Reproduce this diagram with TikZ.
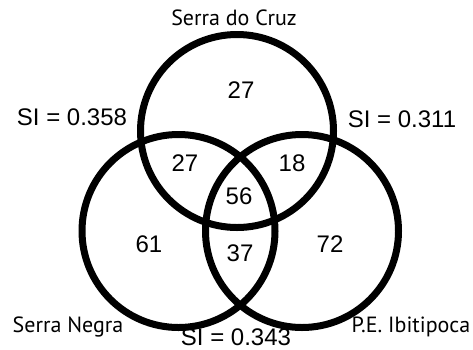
\documentclass[tikz,border=0pt]{standalone}
\usepackage{fontspec}
\setmainfont{Liberation Sans}
\newfontfamily\sitefont{PT Sans}

\begin{document}
\begin{tikzpicture}[x=1pt, y=-1pt,
    ring/.style={line width=7pt, black},
    num/.style={font=\fontsize{24}{28}\selectfont, inner sep=0pt},
    site/.style={font=\sitefont\fontsize{22}{25}\selectfont, inner sep=0pt, anchor=base}]
    % Rahmen des Bildes
    \useasboundingbox (0, 0) rectangle (473, 349);

    % 1. Drei Kreise
    \draw[ring] (237, 131) circle (96.5);
    \draw[ring] (178.5, 231) circle (96.5);
    \draw[ring] (302, 231) circle (96.5);

    % 2. Anzahl der Arten je Bereich
    \node[num] (cruz)  at (241, 90)  {27};
    \node[num] (cn)    at (185, 163) {27};
    \node[num] (ci)    at (292, 163) {18};
    \node[num] (all)   at (239, 196) {56};
    \node[num] (negra) at (149, 244) {61};
    \node[num] (ni)    at (240, 253) {37};
    \node[num] (ibit)  at (330, 244) {72};

    % 3. Namen der Gebiete
    \node[site] (lcruz)  at (234, 25.5) {Serra do Cruz};
    \node[site] (lnegra) at (68, 332)   {Serra Negra};
    \node[site] (libit)  at (411, 332)  {P.E. Ibitipoca};

    % 4. Ähnlichkeitsindizes
    \node[num] (sicn) at (72, 117)  {SI = 0.358};
    \node[num] (sici) at (402, 119) {SI = 0.311};
    \node[num, anchor=base] (sini) at (236, 345) {SI = 0.343};
\end{tikzpicture}
\end{document}
